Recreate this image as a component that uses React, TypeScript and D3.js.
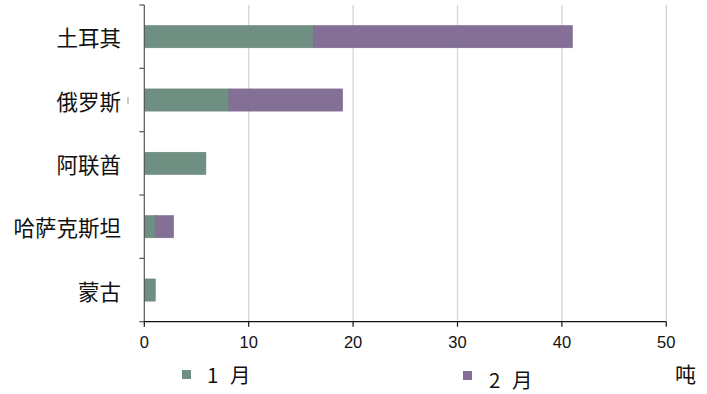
import React from "react";
import * as d3 from "d3";

const categories = ["土耳其", "俄罗斯", "阿联酋", "哈萨克斯坦", "蒙古"];
const seriesNames = ["1 月", "2 月"];
const jan = [16.2, 8.1, 5.9, 1.05, 1.05];
const feb = [24.8, 10.9, 0, 1.75, 0];
const xTicks = [0, 10, 20, 30, 40, 50];
const unitLabel = "吨";
const colors = ["#6f8f82", "#846f97"];

const W = 707;
const H = 394;
const left = 144.3;
const right = 666.3;
const top = 5;
const bottom = 321.7;

export default function App() {
  const x = d3.scaleLinear().domain([0, 50]).range([left, right]);
  const y = d3.scaleBand<string>().domain(categories).range([top, bottom]).paddingInner(0.65).paddingOuter(0.325);
  const yb = d3.scaleBand<string>().domain(categories).range([top, bottom]);
  const stack = d3.stack<any>().keys(["jan", "feb"]);
  const rows = categories.map((c, i) => ({ cat: c, jan: jan[i], feb: feb[i] }));
  const layers = stack(rows);
  const cjk = "'Noto Sans CJK SC', sans-serif";
  const latin = "'Liberation Sans', Arial, sans-serif";
  const boundaries = categories.map((c) => yb(c)!).concat([bottom]);

  return (
    <svg width={W} height={H} style={{ position: "absolute", left: 0, top: 0, background: "#fff" }}>
      {xTicks.slice(1).map((t) => (
        <line key={"g" + t} x1={x(t)} x2={x(t)} y1={top} y2={bottom} stroke="#d4d4d4" strokeWidth={1.3} />
      ))}
      {layers.map((layer, li) =>
        layer.map((d, i) =>
          d[1] - d[0] > 0 ? (
            <rect
              key={li + "-" + i}
              x={x(d[0])}
              y={y(categories[i])!}
              width={x(d[1]) - x(d[0])}
              height={y.bandwidth()}
              fill={colors[li]}
              stroke={li === 0 ? "#678578" : "#7c688e"}
              strokeWidth={0.6}
            />
          ) : null
        )
      )}
      <line x1={left} x2={left} y1={top} y2={bottom} stroke="#555" strokeWidth={1.2} />
      {boundaries.map((b, i) => (
        <line key={"yt" + i} x1={left - 5} x2={left} y1={b} y2={b} stroke="#555" strokeWidth={1.2} />
      ))}
      <line x1={left} x2={right} y1={bottom} y2={bottom} stroke="#111" strokeWidth={1.3} />
      {xTicks.map((t) => (
        <g key={"xt" + t}>
          <line x1={x(t)} x2={x(t)} y1={bottom} y2={bottom + 5} stroke="#111" strokeWidth={1.2} />
          <text x={x(t)} y={bottom + 26} textAnchor="middle" fontFamily={latin} fontSize={16.5} fill="#111">
            {t}
          </text>
        </g>
      ))}
      {categories.map((c) => (
        <text
          key={c}
          x={121}
          y={y(c)! + y.bandwidth() / 2}
          textAnchor="end"
          dominantBaseline="central"
          fontFamily={cjk}
          fontSize={21.5}
          fill="#111"
        >
          {c}
        </text>
      ))}
      <line x1={128} x2={128} y1={97} y2={104} stroke="#999" strokeWidth={1} />
      <rect x={182} y={370} width={9} height={9} fill={colors[0]} />
      <text x={207} y={374} dominantBaseline="central" fontFamily={cjk} fontSize={20.5} wordSpacing={7} fill="#111">
        {seriesNames[0]}
      </text>
      <rect x={463} y={371} width={9} height={9} fill={colors[1]} />
      <text x={489} y={379} dominantBaseline="central" fontFamily={cjk} fontSize={20.5} wordSpacing={7} fill="#111">
        {seriesNames[1]}
      </text>
      <text x={675} y={373} dominantBaseline="central" fontFamily={cjk} fontSize={21} fill="#111">
        {unitLabel}
      </text>
    </svg>
  );
}
